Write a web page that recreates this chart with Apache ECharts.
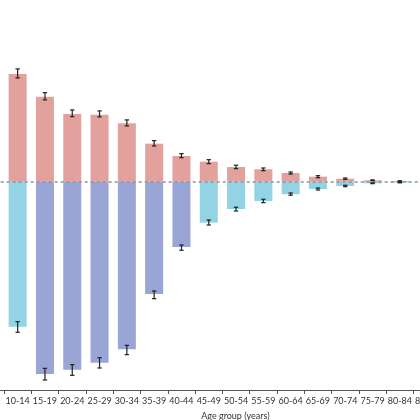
<!DOCTYPE html>
<html><head><meta charset="utf-8">
<script src="https://cdn.jsdelivr.net/npm/echarts@6/dist/echarts.min.js"></script>
<style>html,body{margin:0;padding:0;background:#fff}#c{width:420px;height:420px}</style>
</head><body><div id="c"></div>
<script>
// Age groups (5-9 and those after 80-84 are cut off in the reference)
const ageGroups = ['5-9','10-14','15-19','20-24','25-29','30-34','35-39','40-44','45-49','50-54','55-59','60-64','65-69','70-74','75-79','80-84','85-89','90-94'];
// Upper (positive) bars
const upperValues = [null,129.3,102.0,81.3,80.4,70.1,45.6,30.8,24.0,17.6,14.9,10.4,6.0,3.6,1.7,0.8,null,null];
const upperLow    = [null,124.5,98.1,78.0,77.7,66.9,42.8,28.8,21.6,15.6,13.2,9.2,4.8,2.8,1.2,0.5,null,null];
const upperHigh   = [null,135.3,106.8,86.1,84.9,74.1,49.2,33.6,26.4,19.7,16.4,11.6,7.2,4.4,2.2,1.1,null,null];
// Lower (negative) bars, light-blue group
const lowerCyan   = [null,-174.0,null,null,null,null,null,null,-49.2,-32.8,-23.2,-15.1,-8.8,-5.2,-1.9,-1.1,null,null];
// Lower (negative) bars, blue-violet group
const lowerBlue   = [null,null,-230.8,-225.6,-217.2,-201.2,-134.8,-78.4,null,null,null,null,null,null,null,null,null,null];
const lowerLow    = [null,-180.7,-238.0,-232.4,-223.6,-207.6,-140.4,-82.3,-52.0,-35.2,-25.2,-16.3,-10.0,-6.0,-2.4,-1.4,null,null];
const lowerHigh   = [null,-168.0,-224.0,-219.6,-211.2,-196.4,-131.2,-76.0,-46.0,-30.7,-21.1,-13.6,-7.6,-4.3,-1.4,-0.7,null,null];

const errData = [];
ageGroups.forEach((g,i)=>{
  if (upperLow[i]!=null) errData.push([i, upperLow[i], upperHigh[i]]);
  if (lowerLow[i]!=null) errData.push([i, lowerLow[i], lowerHigh[i]]);
});

const chart = echarts.init(document.getElementById('c'), null, {renderer:'canvas'});
const fontFamily = 'Lato, "Open Sans", sans-serif';
chart.setOption({
  animation:false,
  grid:{left:-23.3, top:0, width:491.4, height:390, containLabel:false, outerBoundsMode:'none'},
  xAxis:{
    type:'category', data:ageGroups, boundaryGap:true,
    axisLine:{onZero:false, lineStyle:{color:'#555', width:1}},
    axisTick:{show:true, length:4, interval:0, lineStyle:{color:'#555', width:1}},
    axisLabel:{color:'#333', fontSize:9, fontFamily, margin:7, interval:0},
    name:'Age group (years)', nameLocation:'middle', nameGap:22,
    nameTextStyle:{color:'#333', fontSize:9, fontFamily, padding:[0,0,0,26]}
  },
  yAxis:{type:'value', min:-250, max:218, show:false, splitLine:{show:false}},
  series:[
    {type:'bar', name:'upper', stack:'a', data:upperValues, barWidth:'66%',
     itemStyle:{color:'#e3a19d'},
     markLine:{silent:true, symbol:'none', label:{show:false},
       lineStyle:{type:[3,3], color:'#8c9598', width:1.5}, data:[{yAxis:0}]}},
    {type:'bar', name:'lowerCyan', stack:'a', data:lowerCyan, barWidth:'66%', itemStyle:{color:'#93d3e4'}},
    {type:'bar', name:'lowerBlue', stack:'a', data:lowerBlue, barWidth:'66%', itemStyle:{color:'#99a5d5'}},
    {type:'custom', name:'err', data:errData, z:10,
     renderItem:function(params, api){
       const x = api.coord([api.value(0), api.value(1)])[0];
       const y1 = api.coord([api.value(0), api.value(1)])[1];
       const y2 = api.coord([api.value(0), api.value(2)])[1];
       const w = 2.2;
       const st = {stroke:'#222', lineWidth:1.2, fill:null};
       return {type:'group', children:[
         {type:'line', shape:{x1:x,y1:y1,x2:x,y2:y2}, style:st},
         {type:'line', shape:{x1:x-w,y1:y1,x2:x+w,y2:y1}, style:st},
         {type:'line', shape:{x1:x-w,y1:y2,x2:x+w,y2:y2}, style:st}
       ]};
     }}
  ]
});
</script></body></html>
